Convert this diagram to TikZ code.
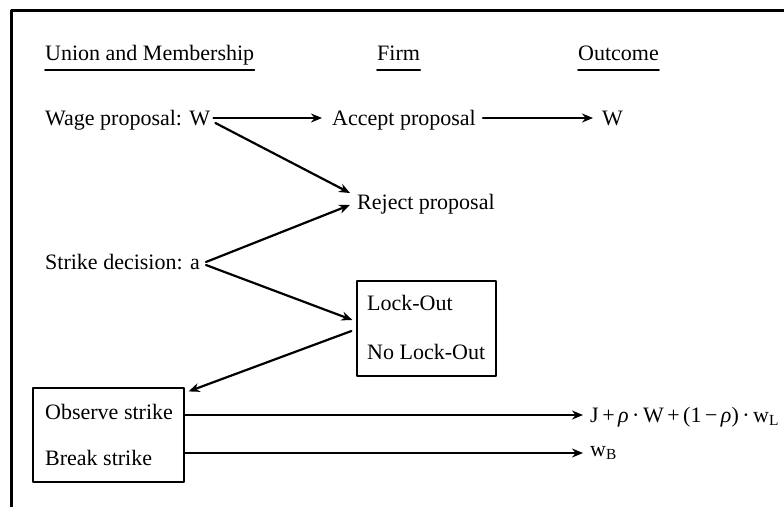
\documentclass[tikz,border=0pt]{standalone}
\usepackage{fontspec}
\setmainfont{Liberation Serif}
\usetikzlibrary{arrows.meta}

\begin{document}
\begin{tikzpicture}[x=1pt, y=-1pt, font=\fontsize{22}{26}\selectfont, line join=round, line cap=round, >={Stealth[length=11pt,width=9pt]},
	txt/.style={anchor=west, inner sep=0pt, text height=15pt, text depth=0pt},
	hop/.style={line width=2.2pt, ->},
	box/.style={draw, line width=1.2pt, inner sep=0pt}]
	% Khung
	\useasboundingbox (0,0) rectangle (784,506);
	\clip (0,0) rectangle (784,506);
	\draw[line width=3pt] (790,10) -- (11,10) -- (11,512);
	
	% Tiêu đề các cột
	\node[txt] (union) at (45,53) {Union and Membership};
	\node[txt] (firm) at (377,53) {Firm};
	\node[txt] (outcome) at (578,53) {Outcome};
	\foreach \col in {union,firm,outcome}\draw[line width=1.6pt] ([yshift=-9pt]\col.south west)--([yshift=-9pt]\col.south east);
	
	% Các bước
	\node[txt] (wage) at (45,118) {Wage proposal: W};
	\node[txt] (accept) at (332,118) {Accept proposal};
	\node[txt] (outW) at (602,118) {W};
	\node[txt] (reject) at (357,202) {Reject proposal};
	\node[txt] (strike) at (45,262) {Strike decision: a};
	
	% Hai hộp
	\node[box, minimum width=139pt, minimum height=95pt] (lockbox) at (426.5,328.5) {};
	\node[txt] (lock) at (367,303) {Lock-Out};
	\node[txt] (nolock) at (367,352) {No Lock-Out};
	\node[box, minimum width=151pt, minimum height=94pt] (obsbox) at (108.5,435) {};
	\node[txt] (observe) at (45,412) {Observe strike};
	\node[txt] (break) at (45,458) {Break strike};
	
	% Kết quả
	\def\gap{\hspace{3.5pt}}
	\node[txt] (payoff) at (590,415) {J\gap+\gap\textit{ρ}\gap·\gap W\gap+\gap(1\gap−\gap\textit{ρ})\gap·\gap w\textsubscript{L}};
	\node[txt, text height=6pt] (wB) at (590,453) {w\textsubscript{B}};
	
	% Mũi tên
	\draw[hop, shorten <=3pt, shorten >=10pt] (wage.east)--(accept.west);
	\draw[hop, shorten <=7pt, shorten >=9pt] (accept.east)--(outW.west);
	\draw[hop] ([xshift=5pt,yshift=-5pt]wage.east)--([xshift=-7pt,yshift=9pt]reject.west);
	\draw[hop] ([xshift=6pt]strike.east)--([xshift=-7pt,yshift=-3pt]reject.west);
	\draw[hop] ([xshift=6pt,yshift=-3pt]strike.east)--([xshift=-4pt,yshift=8.5pt]lockbox.west);
	\draw[hop] ([xshift=-5pt,yshift=-2.5pt]lockbox.west)--([xshift=4pt,yshift=-4pt]obsbox.north east);
	\draw[hop, shorten >=7pt] (obsbox.east |- payoff.west)--(payoff.west);
	\draw[hop, shorten >=7pt] (obsbox.east |- wB.west)--(wB.west);
\end{tikzpicture}
\end{document}
